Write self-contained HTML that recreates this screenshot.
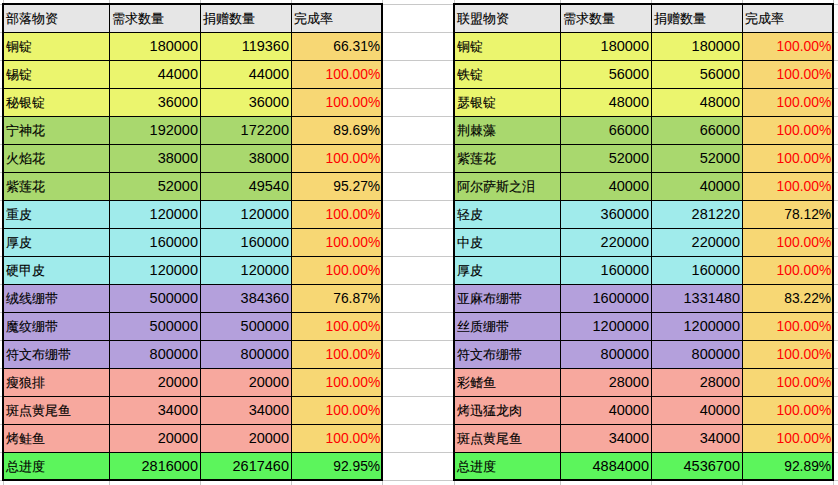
<!DOCTYPE html>
<html><head><meta charset="utf-8"><style>
html,body{margin:0;padding:0;background:#fff;}
body{width:838px;height:485px;overflow:hidden;position:relative;font-family:"Liberation Sans",sans-serif;font-size:14px;color:#000;}
body>div{position:absolute;box-sizing:border-box;}
.t{position:absolute;top:0;bottom:0;display:flex;align-items:center;white-space:nowrap;line-height:1;font-size:14.5px;}
.l{left:2px;}
.c{font-size:13.33px;-webkit-text-stroke:0.12px #000;}
.last .t{bottom:-1px;}
.r{right:2px;}
.p{right:1px;transform:scaleX(0.955);transform-origin:100% 50%;}
</style></head><body>
<div style="left:3px;top:0px;width:1px;height:485px;background:#c8c8c8"></div>
<div style="left:109px;top:0px;width:1px;height:485px;background:#c8c8c8"></div>
<div style="left:200px;top:0px;width:1px;height:485px;background:#c8c8c8"></div>
<div style="left:291px;top:0px;width:1px;height:485px;background:#c8c8c8"></div>
<div style="left:382px;top:0px;width:1px;height:485px;background:#c8c8c8"></div>
<div style="left:454px;top:0px;width:1px;height:485px;background:#c8c8c8"></div>
<div style="left:560px;top:0px;width:1px;height:485px;background:#c8c8c8"></div>
<div style="left:651px;top:0px;width:1px;height:485px;background:#c8c8c8"></div>
<div style="left:742px;top:0px;width:1px;height:485px;background:#c8c8c8"></div>
<div style="left:833px;top:0px;width:1px;height:485px;background:#c8c8c8"></div>
<div style="left:0px;top:4px;width:838px;height:1px;background:#c8c8c8"></div>
<div style="left:0px;top:32px;width:838px;height:1px;background:#c8c8c8"></div>
<div style="left:0px;top:60px;width:838px;height:1px;background:#c8c8c8"></div>
<div style="left:0px;top:88px;width:838px;height:1px;background:#c8c8c8"></div>
<div style="left:0px;top:116px;width:838px;height:1px;background:#c8c8c8"></div>
<div style="left:0px;top:144px;width:838px;height:1px;background:#c8c8c8"></div>
<div style="left:0px;top:172px;width:838px;height:1px;background:#c8c8c8"></div>
<div style="left:0px;top:200px;width:838px;height:1px;background:#c8c8c8"></div>
<div style="left:0px;top:228px;width:838px;height:1px;background:#c8c8c8"></div>
<div style="left:0px;top:256px;width:838px;height:1px;background:#c8c8c8"></div>
<div style="left:0px;top:284px;width:838px;height:1px;background:#c8c8c8"></div>
<div style="left:0px;top:312px;width:838px;height:1px;background:#c8c8c8"></div>
<div style="left:0px;top:340px;width:838px;height:1px;background:#c8c8c8"></div>
<div style="left:0px;top:368px;width:838px;height:1px;background:#c8c8c8"></div>
<div style="left:0px;top:396px;width:838px;height:1px;background:#c8c8c8"></div>
<div style="left:0px;top:424px;width:838px;height:1px;background:#c8c8c8"></div>
<div style="left:0px;top:452px;width:838px;height:1px;background:#c8c8c8"></div>
<div style="left:0px;top:480px;width:838px;height:1px;background:#c8c8c8"></div>
<div style="left:2px;top:3px;width:381px;height:478px;background:#000"></div>
<div style="left:4px;top:5px;width:105px;height:27px;background:#e6e6e6;"><span class="t l c">部落物资</span></div>
<div style="left:110px;top:5px;width:90px;height:27px;background:#e6e6e6;"><span class="t l c">需求数量</span></div>
<div style="left:201px;top:5px;width:90px;height:27px;background:#e6e6e6;"><span class="t l c">捐赠数量</span></div>
<div style="left:292px;top:5px;width:89px;height:27px;background:#e6e6e6;"><span class="t l c">完成率</span></div>
<div style="left:4px;top:33px;width:105px;height:27px;background:#ebf56e;"><span class="t l c">铜锭</span></div>
<div style="left:110px;top:33px;width:90px;height:27px;background:#ebf56e;"><span class="t r">180000</span></div>
<div style="left:201px;top:33px;width:90px;height:27px;background:#ebf56e;"><span class="t r">119360</span></div>
<div style="left:292px;top:33px;width:89px;height:27px;background:#f7d774;"><span class="t r p">66.31%</span></div>
<div style="left:4px;top:61px;width:105px;height:27px;background:#ebf56e;"><span class="t l c">锡锭</span></div>
<div style="left:110px;top:61px;width:90px;height:27px;background:#ebf56e;"><span class="t r">44000</span></div>
<div style="left:201px;top:61px;width:90px;height:27px;background:#ebf56e;"><span class="t r">44000</span></div>
<div style="left:292px;top:61px;width:89px;height:27px;background:#f7d774;color:#ff0000;"><span class="t r p">100.00%</span></div>
<div style="left:4px;top:89px;width:105px;height:27px;background:#ebf56e;"><span class="t l c">秘银锭</span></div>
<div style="left:110px;top:89px;width:90px;height:27px;background:#ebf56e;"><span class="t r">36000</span></div>
<div style="left:201px;top:89px;width:90px;height:27px;background:#ebf56e;"><span class="t r">36000</span></div>
<div style="left:292px;top:89px;width:89px;height:27px;background:#f7d774;color:#ff0000;"><span class="t r p">100.00%</span></div>
<div style="left:4px;top:117px;width:105px;height:27px;background:#a9d86e;"><span class="t l c">宁神花</span></div>
<div style="left:110px;top:117px;width:90px;height:27px;background:#a9d86e;"><span class="t r">192000</span></div>
<div style="left:201px;top:117px;width:90px;height:27px;background:#a9d86e;"><span class="t r">172200</span></div>
<div style="left:292px;top:117px;width:89px;height:27px;background:#f7d774;"><span class="t r p">89.69%</span></div>
<div style="left:4px;top:145px;width:105px;height:27px;background:#a9d86e;"><span class="t l c">火焰花</span></div>
<div style="left:110px;top:145px;width:90px;height:27px;background:#a9d86e;"><span class="t r">38000</span></div>
<div style="left:201px;top:145px;width:90px;height:27px;background:#a9d86e;"><span class="t r">38000</span></div>
<div style="left:292px;top:145px;width:89px;height:27px;background:#f7d774;color:#ff0000;"><span class="t r p">100.00%</span></div>
<div style="left:4px;top:173px;width:105px;height:27px;background:#a9d86e;"><span class="t l c">紫莲花</span></div>
<div style="left:110px;top:173px;width:90px;height:27px;background:#a9d86e;"><span class="t r">52000</span></div>
<div style="left:201px;top:173px;width:90px;height:27px;background:#a9d86e;"><span class="t r">49540</span></div>
<div style="left:292px;top:173px;width:89px;height:27px;background:#f7d774;"><span class="t r p">95.27%</span></div>
<div style="left:4px;top:201px;width:105px;height:27px;background:#a0ebeb;"><span class="t l c">重皮</span></div>
<div style="left:110px;top:201px;width:90px;height:27px;background:#a0ebeb;"><span class="t r">120000</span></div>
<div style="left:201px;top:201px;width:90px;height:27px;background:#a0ebeb;"><span class="t r">120000</span></div>
<div style="left:292px;top:201px;width:89px;height:27px;background:#f7d774;color:#ff0000;"><span class="t r p">100.00%</span></div>
<div style="left:4px;top:229px;width:105px;height:27px;background:#a0ebeb;"><span class="t l c">厚皮</span></div>
<div style="left:110px;top:229px;width:90px;height:27px;background:#a0ebeb;"><span class="t r">160000</span></div>
<div style="left:201px;top:229px;width:90px;height:27px;background:#a0ebeb;"><span class="t r">160000</span></div>
<div style="left:292px;top:229px;width:89px;height:27px;background:#f7d774;color:#ff0000;"><span class="t r p">100.00%</span></div>
<div style="left:4px;top:257px;width:105px;height:27px;background:#a0ebeb;"><span class="t l c">硬甲皮</span></div>
<div style="left:110px;top:257px;width:90px;height:27px;background:#a0ebeb;"><span class="t r">120000</span></div>
<div style="left:201px;top:257px;width:90px;height:27px;background:#a0ebeb;"><span class="t r">120000</span></div>
<div style="left:292px;top:257px;width:89px;height:27px;background:#f7d774;color:#ff0000;"><span class="t r p">100.00%</span></div>
<div style="left:4px;top:285px;width:105px;height:27px;background:#b4a0dc;"><span class="t l c">绒线绷带</span></div>
<div style="left:110px;top:285px;width:90px;height:27px;background:#b4a0dc;"><span class="t r">500000</span></div>
<div style="left:201px;top:285px;width:90px;height:27px;background:#b4a0dc;"><span class="t r">384360</span></div>
<div style="left:292px;top:285px;width:89px;height:27px;background:#f7d774;"><span class="t r p">76.87%</span></div>
<div style="left:4px;top:313px;width:105px;height:27px;background:#b4a0dc;"><span class="t l c">魔纹绷带</span></div>
<div style="left:110px;top:313px;width:90px;height:27px;background:#b4a0dc;"><span class="t r">500000</span></div>
<div style="left:201px;top:313px;width:90px;height:27px;background:#b4a0dc;"><span class="t r">500000</span></div>
<div style="left:292px;top:313px;width:89px;height:27px;background:#f7d774;color:#ff0000;"><span class="t r p">100.00%</span></div>
<div style="left:4px;top:341px;width:105px;height:27px;background:#b4a0dc;"><span class="t l c">符文布绷带</span></div>
<div style="left:110px;top:341px;width:90px;height:27px;background:#b4a0dc;"><span class="t r">800000</span></div>
<div style="left:201px;top:341px;width:90px;height:27px;background:#b4a0dc;"><span class="t r">800000</span></div>
<div style="left:292px;top:341px;width:89px;height:27px;background:#f7d774;color:#ff0000;"><span class="t r p">100.00%</span></div>
<div style="left:4px;top:369px;width:105px;height:27px;background:#f7a89e;"><span class="t l c">瘦狼排</span></div>
<div style="left:110px;top:369px;width:90px;height:27px;background:#f7a89e;"><span class="t r">20000</span></div>
<div style="left:201px;top:369px;width:90px;height:27px;background:#f7a89e;"><span class="t r">20000</span></div>
<div style="left:292px;top:369px;width:89px;height:27px;background:#f7d774;color:#ff0000;"><span class="t r p">100.00%</span></div>
<div style="left:4px;top:397px;width:105px;height:27px;background:#f7a89e;"><span class="t l c">斑点黄尾鱼</span></div>
<div style="left:110px;top:397px;width:90px;height:27px;background:#f7a89e;"><span class="t r">34000</span></div>
<div style="left:201px;top:397px;width:90px;height:27px;background:#f7a89e;"><span class="t r">34000</span></div>
<div style="left:292px;top:397px;width:89px;height:27px;background:#f7d774;color:#ff0000;"><span class="t r p">100.00%</span></div>
<div style="left:4px;top:425px;width:105px;height:27px;background:#f7a89e;"><span class="t l c">烤鲑鱼</span></div>
<div style="left:110px;top:425px;width:90px;height:27px;background:#f7a89e;"><span class="t r">20000</span></div>
<div style="left:201px;top:425px;width:90px;height:27px;background:#f7a89e;"><span class="t r">20000</span></div>
<div style="left:292px;top:425px;width:89px;height:27px;background:#f7d774;color:#ff0000;"><span class="t r p">100.00%</span></div>
<div style="left:4px;top:453px;width:105px;height:26px;background:#5cf55c;" class="last"><span class="t l c">总进度</span></div>
<div style="left:110px;top:453px;width:90px;height:26px;background:#5cf55c;" class="last"><span class="t r">2816000</span></div>
<div style="left:201px;top:453px;width:90px;height:26px;background:#5cf55c;" class="last"><span class="t r">2617460</span></div>
<div style="left:292px;top:453px;width:89px;height:26px;background:#5cf55c;" class="last"><span class="t r p">92.95%</span></div>
<div style="left:453px;top:3px;width:381px;height:478px;background:#000"></div>
<div style="left:455px;top:5px;width:105px;height:27px;background:#e6e6e6;"><span class="t l c">联盟物资</span></div>
<div style="left:561px;top:5px;width:90px;height:27px;background:#e6e6e6;"><span class="t l c">需求数量</span></div>
<div style="left:652px;top:5px;width:90px;height:27px;background:#e6e6e6;"><span class="t l c">捐赠数量</span></div>
<div style="left:743px;top:5px;width:89px;height:27px;background:#e6e6e6;"><span class="t l c">完成率</span></div>
<div style="left:455px;top:33px;width:105px;height:27px;background:#ebf56e;"><span class="t l c">铜锭</span></div>
<div style="left:561px;top:33px;width:90px;height:27px;background:#ebf56e;"><span class="t r">180000</span></div>
<div style="left:652px;top:33px;width:90px;height:27px;background:#ebf56e;"><span class="t r">180000</span></div>
<div style="left:743px;top:33px;width:89px;height:27px;background:#f7d774;color:#ff0000;"><span class="t r p">100.00%</span></div>
<div style="left:455px;top:61px;width:105px;height:27px;background:#ebf56e;"><span class="t l c">铁锭</span></div>
<div style="left:561px;top:61px;width:90px;height:27px;background:#ebf56e;"><span class="t r">56000</span></div>
<div style="left:652px;top:61px;width:90px;height:27px;background:#ebf56e;"><span class="t r">56000</span></div>
<div style="left:743px;top:61px;width:89px;height:27px;background:#f7d774;color:#ff0000;"><span class="t r p">100.00%</span></div>
<div style="left:455px;top:89px;width:105px;height:27px;background:#ebf56e;"><span class="t l c">瑟银锭</span></div>
<div style="left:561px;top:89px;width:90px;height:27px;background:#ebf56e;"><span class="t r">48000</span></div>
<div style="left:652px;top:89px;width:90px;height:27px;background:#ebf56e;"><span class="t r">48000</span></div>
<div style="left:743px;top:89px;width:89px;height:27px;background:#f7d774;color:#ff0000;"><span class="t r p">100.00%</span></div>
<div style="left:455px;top:117px;width:105px;height:27px;background:#a9d86e;"><span class="t l c">荆棘藻</span></div>
<div style="left:561px;top:117px;width:90px;height:27px;background:#a9d86e;"><span class="t r">66000</span></div>
<div style="left:652px;top:117px;width:90px;height:27px;background:#a9d86e;"><span class="t r">66000</span></div>
<div style="left:743px;top:117px;width:89px;height:27px;background:#f7d774;color:#ff0000;"><span class="t r p">100.00%</span></div>
<div style="left:455px;top:145px;width:105px;height:27px;background:#a9d86e;"><span class="t l c">紫莲花</span></div>
<div style="left:561px;top:145px;width:90px;height:27px;background:#a9d86e;"><span class="t r">52000</span></div>
<div style="left:652px;top:145px;width:90px;height:27px;background:#a9d86e;"><span class="t r">52000</span></div>
<div style="left:743px;top:145px;width:89px;height:27px;background:#f7d774;color:#ff0000;"><span class="t r p">100.00%</span></div>
<div style="left:455px;top:173px;width:105px;height:27px;background:#a9d86e;"><span class="t l c">阿尔萨斯之泪</span></div>
<div style="left:561px;top:173px;width:90px;height:27px;background:#a9d86e;"><span class="t r">40000</span></div>
<div style="left:652px;top:173px;width:90px;height:27px;background:#a9d86e;"><span class="t r">40000</span></div>
<div style="left:743px;top:173px;width:89px;height:27px;background:#f7d774;color:#ff0000;"><span class="t r p">100.00%</span></div>
<div style="left:455px;top:201px;width:105px;height:27px;background:#a0ebeb;"><span class="t l c">轻皮</span></div>
<div style="left:561px;top:201px;width:90px;height:27px;background:#a0ebeb;"><span class="t r">360000</span></div>
<div style="left:652px;top:201px;width:90px;height:27px;background:#a0ebeb;"><span class="t r">281220</span></div>
<div style="left:743px;top:201px;width:89px;height:27px;background:#f7d774;"><span class="t r p">78.12%</span></div>
<div style="left:455px;top:229px;width:105px;height:27px;background:#a0ebeb;"><span class="t l c">中皮</span></div>
<div style="left:561px;top:229px;width:90px;height:27px;background:#a0ebeb;"><span class="t r">220000</span></div>
<div style="left:652px;top:229px;width:90px;height:27px;background:#a0ebeb;"><span class="t r">220000</span></div>
<div style="left:743px;top:229px;width:89px;height:27px;background:#f7d774;color:#ff0000;"><span class="t r p">100.00%</span></div>
<div style="left:455px;top:257px;width:105px;height:27px;background:#a0ebeb;"><span class="t l c">厚皮</span></div>
<div style="left:561px;top:257px;width:90px;height:27px;background:#a0ebeb;"><span class="t r">160000</span></div>
<div style="left:652px;top:257px;width:90px;height:27px;background:#a0ebeb;"><span class="t r">160000</span></div>
<div style="left:743px;top:257px;width:89px;height:27px;background:#f7d774;color:#ff0000;"><span class="t r p">100.00%</span></div>
<div style="left:455px;top:285px;width:105px;height:27px;background:#b4a0dc;"><span class="t l c">亚麻布绷带</span></div>
<div style="left:561px;top:285px;width:90px;height:27px;background:#b4a0dc;"><span class="t r">1600000</span></div>
<div style="left:652px;top:285px;width:90px;height:27px;background:#b4a0dc;"><span class="t r">1331480</span></div>
<div style="left:743px;top:285px;width:89px;height:27px;background:#f7d774;"><span class="t r p">83.22%</span></div>
<div style="left:455px;top:313px;width:105px;height:27px;background:#b4a0dc;"><span class="t l c">丝质绷带</span></div>
<div style="left:561px;top:313px;width:90px;height:27px;background:#b4a0dc;"><span class="t r">1200000</span></div>
<div style="left:652px;top:313px;width:90px;height:27px;background:#b4a0dc;"><span class="t r">1200000</span></div>
<div style="left:743px;top:313px;width:89px;height:27px;background:#f7d774;color:#ff0000;"><span class="t r p">100.00%</span></div>
<div style="left:455px;top:341px;width:105px;height:27px;background:#b4a0dc;"><span class="t l c">符文布绷带</span></div>
<div style="left:561px;top:341px;width:90px;height:27px;background:#b4a0dc;"><span class="t r">800000</span></div>
<div style="left:652px;top:341px;width:90px;height:27px;background:#b4a0dc;"><span class="t r">800000</span></div>
<div style="left:743px;top:341px;width:89px;height:27px;background:#f7d774;color:#ff0000;"><span class="t r p">100.00%</span></div>
<div style="left:455px;top:369px;width:105px;height:27px;background:#f7a89e;"><span class="t l c">彩鳍鱼</span></div>
<div style="left:561px;top:369px;width:90px;height:27px;background:#f7a89e;"><span class="t r">28000</span></div>
<div style="left:652px;top:369px;width:90px;height:27px;background:#f7a89e;"><span class="t r">28000</span></div>
<div style="left:743px;top:369px;width:89px;height:27px;background:#f7d774;color:#ff0000;"><span class="t r p">100.00%</span></div>
<div style="left:455px;top:397px;width:105px;height:27px;background:#f7a89e;"><span class="t l c">烤迅猛龙肉</span></div>
<div style="left:561px;top:397px;width:90px;height:27px;background:#f7a89e;"><span class="t r">40000</span></div>
<div style="left:652px;top:397px;width:90px;height:27px;background:#f7a89e;"><span class="t r">40000</span></div>
<div style="left:743px;top:397px;width:89px;height:27px;background:#f7d774;color:#ff0000;"><span class="t r p">100.00%</span></div>
<div style="left:455px;top:425px;width:105px;height:27px;background:#f7a89e;"><span class="t l c">斑点黄尾鱼</span></div>
<div style="left:561px;top:425px;width:90px;height:27px;background:#f7a89e;"><span class="t r">34000</span></div>
<div style="left:652px;top:425px;width:90px;height:27px;background:#f7a89e;"><span class="t r">34000</span></div>
<div style="left:743px;top:425px;width:89px;height:27px;background:#f7d774;color:#ff0000;"><span class="t r p">100.00%</span></div>
<div style="left:455px;top:453px;width:105px;height:26px;background:#5cf55c;" class="last"><span class="t l c">总进度</span></div>
<div style="left:561px;top:453px;width:90px;height:26px;background:#5cf55c;" class="last"><span class="t r">4884000</span></div>
<div style="left:652px;top:453px;width:90px;height:26px;background:#5cf55c;" class="last"><span class="t r">4536700</span></div>
<div style="left:743px;top:453px;width:89px;height:26px;background:#5cf55c;" class="last"><span class="t r p">92.89%</span></div>
</body></html>
